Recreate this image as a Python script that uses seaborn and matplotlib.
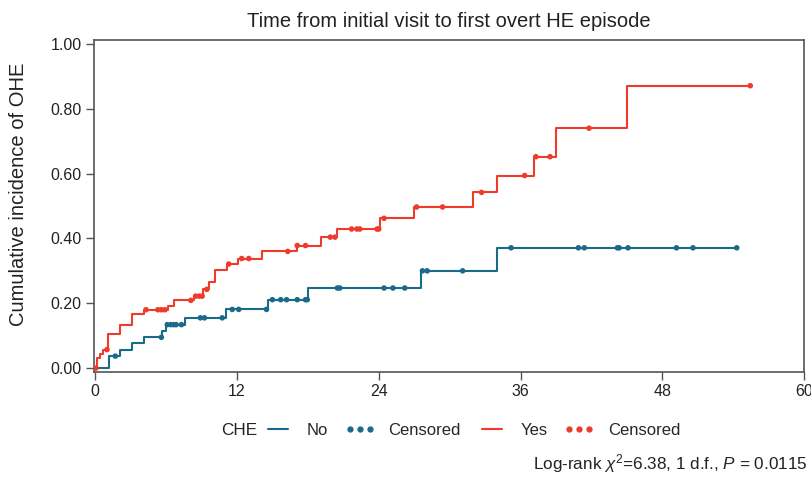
"""
Cumulative incidence of overt HE by CHE status (step curves + censor marks)
"""

import numpy as np
import pandas as pd
import matplotlib
matplotlib.use('Agg')
import matplotlib.pyplot as plt
from matplotlib.lines import Line2D
import seaborn as sns

# ─────────────────────────────────────────────
# Data
# ─────────────────────────────────────────────

# CHE = No
times_no = [0, 1.15, 2.1, 3.1, 4.1, 5.65, 6.0, 7.6, 11.05, 14.6, 18.05, 27.6, 34.0, 54.3]
cum_no = [0, 0.037, 0.057, 0.076, 0.095, 0.114, 0.134, 0.155, 0.181, 0.211, 0.247,
          0.300, 0.371, 0.371]
censor_no = [1.7, 5.6, 6.1, 6.4, 6.65, 6.85, 7.3, 8.9, 9.25, 10.75, 11.6, 12.15, 14.5,
             15.0, 15.7, 16.2, 17.1, 17.8, 17.95, 20.5, 20.7, 24.45, 25.2, 26.2, 27.7,
             28.1, 31.1, 35.2, 40.9, 41.4, 44.2, 44.35, 45.1, 49.2, 50.6, 54.3]

# CHE = Yes
times_yes = [0, 0.17, 0.37, 0.65, 1.12, 2.14, 3.1, 4.17, 6.14, 6.65, 8.4, 9.15, 9.6,
             10.14, 11.15, 12.05, 14.1, 17.05, 19.1, 20.5, 24.1, 27.0, 32.0, 34.0, 37.1,
             39.0, 45.0, 55.45]
cum_yes = [0, 0.032, 0.045, 0.057, 0.105, 0.134, 0.166, 0.180, 0.191, 0.209, 0.222,
           0.243, 0.265, 0.304, 0.321, 0.338, 0.360, 0.378, 0.404, 0.429, 0.462, 0.497,
           0.542, 0.594, 0.652, 0.740, 0.871, 0.871]
censor_yes = [0.05, 1.0, 4.3, 5.3, 5.6, 5.9, 8.1, 8.5, 8.8, 9.05, 9.45, 11.3, 12.4, 13.0,
              16.3, 17.1, 17.8, 19.9, 20.3, 21.7, 22.15, 22.4, 23.85, 24.0, 24.45, 27.2,
              29.4, 32.7, 36.35, 37.3, 38.5, 41.8, 55.45]

groups = ['No', 'Yes']
x_ticks = [0, 12, 24, 36, 48, 60]
y_ticks = [0, 0.2, 0.4, 0.6, 0.8, 1.0]

colors = {'No': '#1a6a89', 'Yes': '#ee3b2b'}


def censor_levels(times, cum, cens):
    idx = np.searchsorted(times, cens, side='right') - 1
    return np.asarray(cum)[idx]


curves = pd.concat([
    pd.DataFrame({'time': times_no, 'cum': cum_no, 'CHE': 'No'}),
    pd.DataFrame({'time': times_yes, 'cum': cum_yes, 'CHE': 'Yes'}),
])
marks = pd.concat([
    pd.DataFrame({'time': censor_no, 'cum': censor_levels(times_no, cum_no, censor_no), 'CHE': 'No'}),
    pd.DataFrame({'time': censor_yes, 'cum': censor_levels(times_yes, cum_yes, censor_yes), 'CHE': 'Yes'}),
])

# ─────────────────────────────────────────────
# Plot
# ─────────────────────────────────────────────

sns.set_style('white')
plt.rcParams['font.family'] = ['Liberation Sans', 'DejaVu Sans']
plt.rcParams['mathtext.fontset'] = 'custom'
plt.rcParams['mathtext.rm'] = 'Liberation Sans'
plt.rcParams['mathtext.it'] = 'Liberation Sans:italic'

fig = plt.figure(figsize=(8.12, 4.79), dpi=100)
ax = fig.add_axes([0.1158, 0.2234, 0.8744, 0.6931])

sns.lineplot(data=curves, x='time', y='cum', hue='CHE', palette=colors,
             drawstyle='steps-post', estimator=None, sort=False, lw=1.5,
             legend=False, ax=ax)
sns.scatterplot(data=marks, x='time', y='cum', hue='CHE', palette=colors,
                s=16, linewidth=0, legend=False, ax=ax, zorder=3)

ax.set_xlim(-0.1, 60)
ax.set_ylim(-0.012, 1.012)
ax.set_xticks(x_ticks)
ax.set_yticks(y_ticks)
ax.set_yticklabels([f'{v:.2f}' for v in y_ticks])
ax.tick_params(bottom=True, left=True, direction='out', length=6, width=1,
               color='#555555', labelsize=11.5, labelcolor='#222222', pad=3)
for sp in ax.spines.values():
    sp.set_color('#555555')
    sp.set_linewidth(1.2)

ax.set_xlabel('')
ax.set_ylabel('Cumulative incidence of OHE', fontsize=14.5, color='#222222')
ax.yaxis.set_label_coords(-0.093, 0.535)
ax.set_title('Time from initial visit to first overt HE episode', fontsize=14.5,
             color='#222222', pad=9)

# legend row below the axes
handles = [
    Line2D([], [], color=colors['No'], lw=1.5),
    Line2D([], [], color=colors['No'], ls='none', marker='o', ms=3.5),
    Line2D([], [], color=colors['Yes'], lw=1.5),
    Line2D([], [], color=colors['Yes'], ls='none', marker='o', ms=3.5),
]
labels = ['No', 'Censored', 'Yes', 'Censored']
fig.legend(handles, labels, ncol=4, frameon=False, numpoints=3,
           loc='center', bbox_to_anchor=(0.581, 0.101), fontsize=12,
           handlelength=1.8, handletextpad=0.8, columnspacing=1.0)
fig.text(0.295, 0.101, 'CHE', fontsize=12.3, ha='center', va='center', color='#222222')

fig.text(0.994, 0.008, r'Log-rank $\chi^2$=6.38, 1 d.f., $P$ = 0.0115',
         fontsize=12.3, ha='right', va='bottom', color='#222222')

plt.savefig('out.png', dpi=100)
plt.close()
